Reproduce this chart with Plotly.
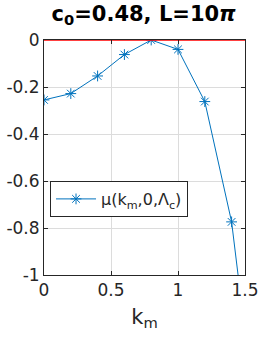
import plotly.graph_objects as go

km = [0.0, 0.2, 0.4, 0.6, 0.8, 1.0, 1.2, 1.4, 1.6]
mu = [-0.255, -0.228, -0.153, -0.062, 0.0, -0.040, -0.262, -0.774, -1.71]

xticks = [0, 0.5, 1, 1.5]
xticklabels = ["0", "0.5", "1", "1.5"]
yticks = [0, -0.2, -0.4, -0.6, -0.8, -1]
yticklabels = ["0", "-0.2", "-0.4", "-0.6", "-0.8", "-1"]

blue = "#0072BD"
fig = go.Figure()
fig.add_trace(go.Scatter(
    x=km, y=mu, mode="lines+markers",
    name="μ(k<sub>m</sub>,0,Λ<sub>c</sub>)",
    line=dict(color=blue, width=1),
    marker=dict(symbol="asterisk-open", size=9, color=blue, line=dict(color=blue, width=1)),
    cliponaxis=True,
))
fig.add_trace(go.Scatter(
    x=[0, 1.5], y=[0, 0], mode="lines", line=dict(color="red", width=1.5),
    showlegend=False, hoverinfo="skip", cliponaxis=False,
))

axis_common = dict(
    showgrid=True, gridcolor="#dcdcdc", gridwidth=1,
    showline=True, linecolor="#262626", linewidth=1, mirror="ticks",
    ticks="inside", ticklen=4, tickcolor="#262626",
    tickfont=dict(family="DejaVu Sans", size=17, color="#262626"),
    zeroline=False, automargin=False,
)
fig.update_xaxes(range=[0, 1.5], tickvals=xticks, ticktext=xticklabels,
                 title=dict(text="k<sub>m</sub>", font=dict(family="DejaVu Sans", size=21, color="#262626"), standoff=9),
                 **axis_common)
fig.update_yaxes(range=[-1, 0], tickvals=yticks, ticktext=yticklabels, **axis_common)

fig.update_layout(
    width=271, height=340,
    margin=dict(l=44, r=26, t=40, b=65),
    plot_bgcolor="white", paper_bgcolor="white",
    title=dict(text="<b>c<sub>0</sub>=0.48, L=10<i>π</i></b>", x=0.53, xanchor="center", y=0.982, yanchor="top",
               font=dict(family="DejaVu Sans", size=21, color="black")),
    legend=dict(x=0.03, y=0.40, xanchor="left", yanchor="top",
                bgcolor="white", bordercolor="#262626", borderwidth=1,
                font=dict(family="DejaVu Sans", size=16, color="#262626"),
                itemwidth=40, tracegroupgap=0),
    showlegend=True,
)
fig.write_html("out.html", post_script="document.body.style.margin='0';",
               config={"displayModeBar": False})
